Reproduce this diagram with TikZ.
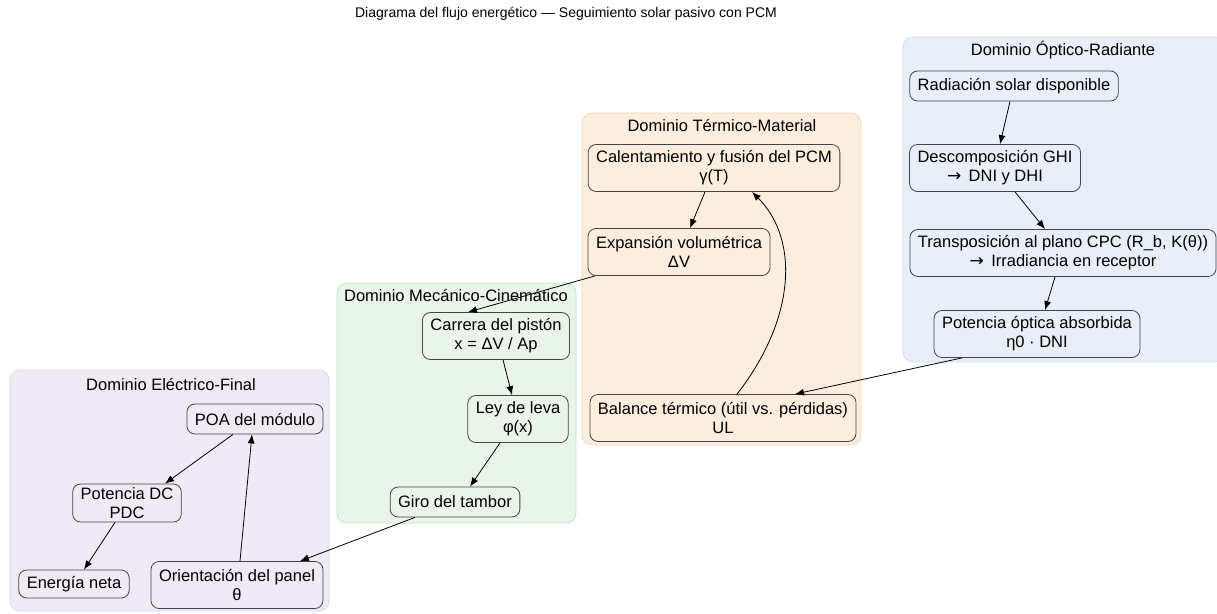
\documentclass[tikz,border=0pt]{standalone}
\usepackage{fontspec}
\setmainfont{Liberation Sans}
\newfontfamily\symfont{DejaVu Sans}
\usetikzlibrary{arrows.meta,positioning}
\definecolor{opticofill}{HTML}{E9EFF8}\definecolor{opticoline}{HTML}{D3DDEC}
\definecolor{termicofill}{HTML}{FBEEDE}\definecolor{termicoline}{HTML}{F0D8B6}
\definecolor{mecanicofill}{HTML}{E9F5E9}\definecolor{mecanicoline}{HTML}{C6E4C6}
\definecolor{electricofill}{HTML}{EFEAF6}\definecolor{electricoline}{HTML}{DCD3EC}
\definecolor{boxline}{HTML}{444444}
\newcommand{\flecha}{{\symfont\fontsize{17}{19}\selectfont →}\,}

\begin{document}
\begin{tikzpicture}[x=1pt,y=-1pt,>={Latex[length=9pt,width=7pt]},
  every node/.style={font=\fontsize{16.5}{19}\selectfont},
  box/.style={draw=boxline,line width=0.8pt,rounded corners=8pt,align=center,
    inner xsep=8pt,inner ysep=3pt,minimum height=30pt},
  twoline/.style={box,minimum height=47pt},
  dominio/.style={rounded corners=10pt,line width=0.8pt},
  flujo/.style={->,line width=0.8pt}]
  \useasboundingbox (0,0) rectangle (1217,613);
  % dominios
  \filldraw[dominio,fill=opticofill,draw=opticoline] (903,37) rectangle (1225,362);
  \filldraw[dominio,fill=termicofill,draw=termicoline] (582,113) rectangle (861,445);
  \filldraw[dominio,fill=mecanicofill,draw=mecanicoline] (337,283) rectangle (576,523);
  \filldraw[dominio,fill=electricofill,draw=electricoline] (10,370) rectangle (329,611);
  \node (titulo) at (566,14) {\fontsize{14}{16}\selectfont Diagrama del flujo energético — Seguimiento solar pasivo con PCM};
  \node (lopt) at (1063,50) {Dominio Óptico-Radiante};
  \node (lter) at (722,126) {Dominio Térmico-Material};
  \node (lmec) at (456,296) {Dominio Mecánico-Cinemático};
  \node (lele) at (171,384) {Dominio Eléctrico-Final};
  % nodos
  \node[box] (rad) at (1014,86) {Radiación solar disponible};
  \node[twoline] (desc) at (995,168) {Descomposición GHI\\\flecha{} DNI y DHI};
  \node[twoline] (trans) at (1063,253) {Transposición al plano CPC (R\_b, K(θ))\\\flecha{} Irradiancia en receptor};
  \node[twoline] (pot) at (1037,334) {Potencia óptica absorbida\\η0 · DNI};
  \node[twoline] (cal) at (714,168) {Calentamiento y fusión del PCM\\γ(T)};
  \node[twoline] (exp) at (679,252) {Expansión volumétrica\\ΔV};
  \node[twoline] (bal) at (723,418) {Balance térmico (útil vs. pérdidas)\\UL};
  \node[twoline] (car) at (496,336) {Carrera del pistón\\x = ΔV / Ap};
  \node[twoline] (ley) at (518,419) {Ley de leva\\φ(x)};
  \node[box] (giro) at (455,502) {Giro del tambor};
  \node[box] (poa) at (255,419) {POA del módulo};
  \node[twoline,minimum height=38pt] (pdc) at (127,503) {Potencia DC\\PDC};
  \node[box,minimum height=28pt] (ene) at (74,584) {Energía neta};
  \node[twoline] (ori) at (237,585) {Orientación del panel\\θ};
  % flujos
  \draw[flujo] ([xshift=-4pt]rad.south) -- ([xshift=5pt]desc.north);
  \draw[flujo] ([xshift=20pt]desc.south) -- ([xshift=-18pt]trans.north);
  \draw[flujo] ([xshift=-8pt]trans.south) -- ([xshift=8pt]pot.north);
  \draw[flujo] ([xshift=-75pt]pot.south) -- ([xshift=72pt]bal.north);
  \draw[flujo] ([xshift=-9pt]cal.south) -- ([xshift=11pt]exp.north);
  \draw[flujo] ([xshift=14pt]bal.north) .. controls (795,320) and (800,240) .. ([xshift=38pt]cal.south);
  \draw[flujo] ([xshift=-84pt]exp.south) -- ([xshift=-28pt]car.north);
  \draw[flujo] ([xshift=7pt]car.south) -- ([xshift=-6pt]ley.north);
  \draw[flujo] ([xshift=-18pt]ley.south) -- ([xshift=15pt]giro.north);
  \draw[flujo] ([xshift=-40pt]giro.south) -- ([xshift=63pt]ori.north);
  \draw[flujo] ([xshift=-22pt]poa.south) -- ([xshift=38pt]pdc.north);
  \draw[flujo] ([xshift=-12pt]pdc.south) -- ([xshift=10pt]ene.north);
  \draw[flujo] ([xshift=3pt]ori.north) -- ([xshift=-3pt]poa.south);
\end{tikzpicture}
\end{document}
